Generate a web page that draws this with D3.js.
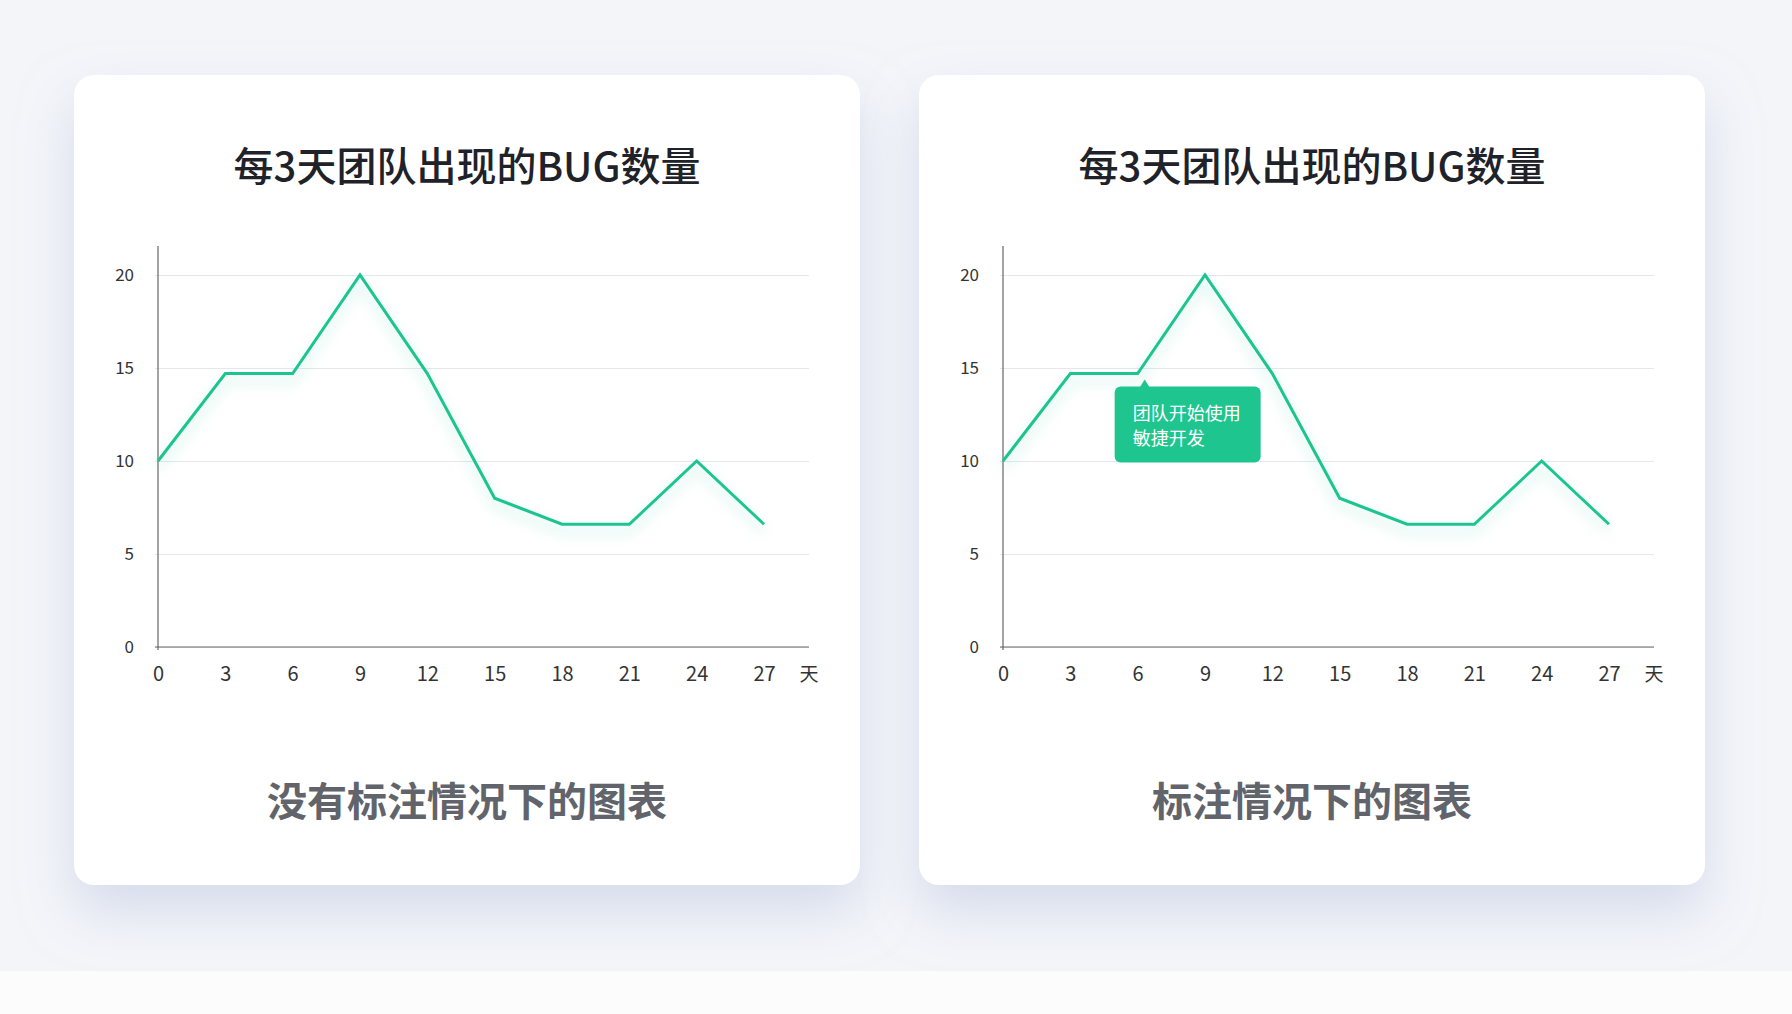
<!DOCTYPE html>
<meta charset="utf-8">
<script src="https://d3js.org/d3.v7.min.js"></script>
<style>
  body { margin: 0; background: #fcfcfd; }
  text { font-family: "Noto Sans CJK SC", "Noto Sans", sans-serif; }
</style>
<body>
<svg id="chart" width="1792" height="1014"></svg>
<script>
    // data
    const days = [0, 3, 6, 9, 12, 15, 18, 21, 24, 27];
    const bugs = [10, 14.7, 14.7, 20, 14.7, 8, 6.6, 6.6, 10, 6.6];
    const yTicks = [0, 5, 10, 15, 20];
    const unitLabel = "天";
    const titleText = "每3天团队出现的BUG数量";
    const captions = ["没有标注情况下的图表", "标注情况下的图表"];
    const noteDay = 6;
    const noteLines = ["团队开始使用", "敏捷开发"];

    const green = "#1fc58e";
    const svg = d3.select("#chart");

    // page background
    svg.append("rect").attr("width", 1792).attr("height", 971).attr("fill", "#f3f5f9");

    const defs = svg.append("defs");
    const cardShadow = defs.append("filter").attr("id", "cardShadow")
        .attr("x", "-20%").attr("y", "-20%").attr("width", "140%").attr("height", "140%");
    cardShadow.append("feDropShadow").attr("dx", 0).attr("dy", 26).attr("stdDeviation", 26)
        .attr("flood-color", "#c3cbe2").attr("flood-opacity", 0.6);

    const glow = defs.append("filter").attr("id", "glow")
        .attr("x", "-20%").attr("y", "-30%").attr("width", "140%").attr("height", "160%");
    glow.append("feDropShadow").attr("dx", 0).attr("dy", 7).attr("stdDeviation", 7)
        .attr("flood-color", green).attr("flood-opacity", 0.3);

    const cardW = 786, cardH = 810;
    const x = d3.scaleLinear().domain([0, 27]).range([84, 690]);
    const y = d3.scaleLinear().domain([0, 20]).range([572, 200]);
    const gridRight = 735;

    function panel(left, caption, annotate) {
        const g = svg.append("g").attr("transform", `translate(${left},75)`);

        g.append("rect").attr("width", cardW).attr("height", cardH).attr("rx", 20)
            .attr("fill", "#fff").attr("filter", "url(#cardShadow)");

        g.append("text").attr("x", cardW / 2).attr("y", 106)
            .attr("text-anchor", "middle").attr("font-size", 40).attr("font-weight", 500)
            .attr("fill", "#1f2229").text(titleText);

        // y axis with gridlines
        const yAxis = g.append("g").attr("transform", `translate(${x(0)},0)`)
            .call(d3.axisLeft(y).tickValues(yTicks).tickSize(-(gridRight - x(0))).tickPadding(24));
        yAxis.select(".domain").remove();
        yAxis.selectAll(".tick line").attr("stroke", "#e6e7ea").attr("x1", -3);
        yAxis.selectAll(".tick text").attr("font-size", 17).attr("fill", "#333")
            .style("font-family", '"Noto Sans CJK SC", sans-serif');

        // x axis
        const xAxis = g.append("g").attr("transform", `translate(0,${y(0)})`)
            .call(d3.axisBottom(x).tickValues(days).tickSize(0).tickPadding(20));
        xAxis.select(".domain").remove();
        xAxis.selectAll(".tick text").attr("font-size", 20).attr("fill", "#333")
            .style("font-family", '"Noto Sans CJK SC", sans-serif');
        g.append("text").attr("x", gridRight).attr("y", y(0) + 21).attr("dy", "0.71em")
            .attr("text-anchor", "middle").attr("font-size", 19).attr("fill", "#333").text(unitLabel);

        // axis lines
        g.append("line").attr("x1", x(0)).attr("x2", x(0)).attr("y1", 171).attr("y2", y(0) + 3)
            .attr("stroke", "#666").attr("stroke-width", 1.2);
        g.append("line").attr("x1", x(0) - 3).attr("x2", gridRight).attr("y1", y(0)).attr("y2", y(0))
            .attr("stroke", "#666").attr("stroke-width", 1.2);

        // line
        const line = d3.line().x((d, i) => x(days[i])).y(d => y(d));
        g.append("path").datum(bugs).attr("d", line)
            .attr("fill", "none").attr("stroke", green).attr("stroke-width", 3)
            .attr("stroke-linejoin", "miter").attr("filter", "url(#glow)");

        g.append("text").attr("x", cardW / 2).attr("y", 741)
            .attr("text-anchor", "middle").attr("font-size", 40).attr("font-weight", 700)
            .attr("fill", "#61646b").text(caption);

        if (annotate) {
            const px = x(noteDay), py = y(bugs[days.indexOf(noteDay)]);
            const bx = px - 23, by = py + 13;
            const note = g.append("g");
            note.append("rect").attr("x", bx).attr("y", by).attr("width", 146).attr("height", 76)
                .attr("rx", 6).attr("fill", green);
            note.append("path")
                .attr("d", `M${px + 2},${by + 1} L${px + 7},${by - 7} L${px + 12},${by + 1} Z`)
                .attr("fill", green);
            note.selectAll("text.note").data(noteLines).join("text").attr("class", "note")
                .attr("x", bx + 18).attr("y", (d, i) => by + 33 + i * 25)
                .attr("font-size", 18).attr("fill", "#fff").text(d => d);
        }
    }

    panel(74, captions[0], false);
    panel(919, captions[1], true);
</script>
</body>
